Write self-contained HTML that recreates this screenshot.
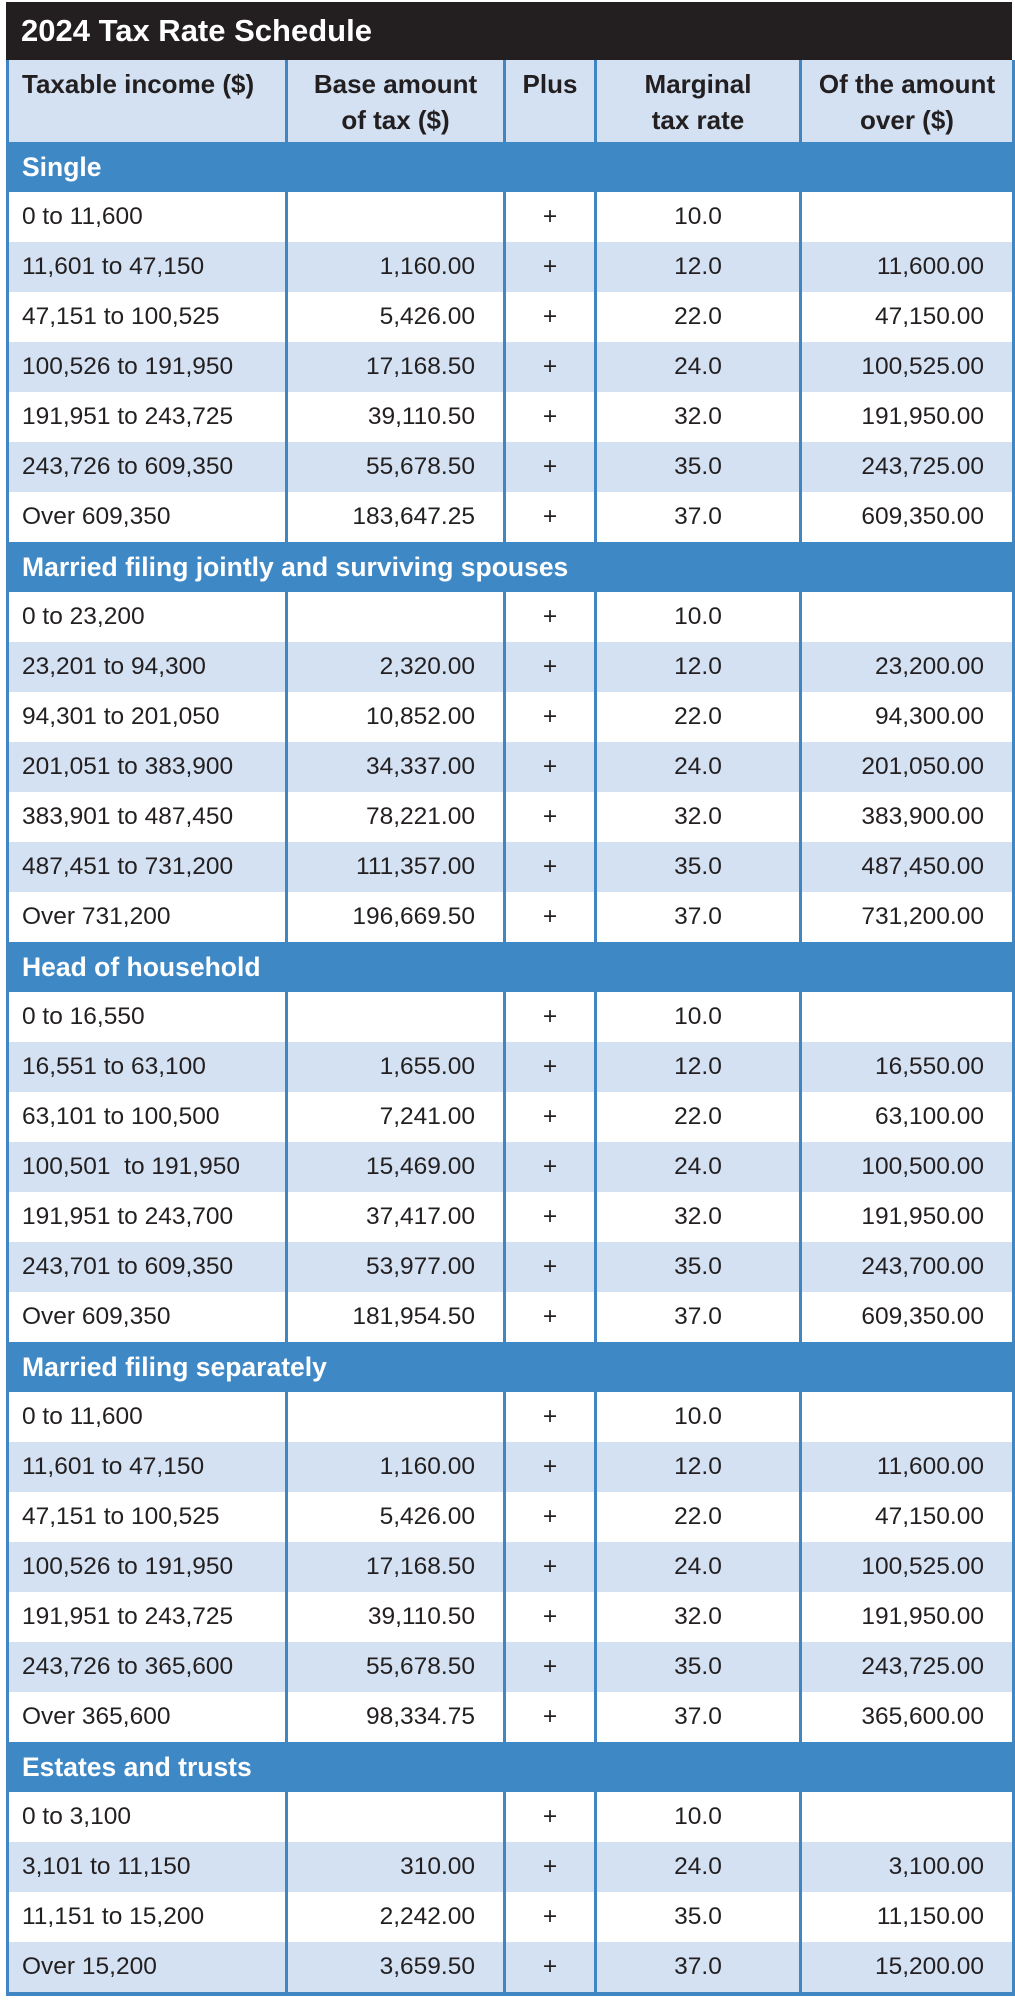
<!DOCTYPE html>
<html><head><meta charset="utf-8"><style>
body{margin:0;background:#fff;width:1015px;height:2004px;overflow:hidden;font-family:"Liberation Sans",sans-serif;}
.t{position:absolute;left:6px;top:2px;width:1006px;height:58px;background:#231f20;color:#fff;font-weight:bold;font-size:31px;line-height:58px;}
.t span{margin-left:15px}
table{position:absolute;left:6px;top:60px;border-collapse:collapse;table-layout:fixed;width:1006px;}
td{border-left:3px solid #3f86c3;border-right:3px solid #3f86c3;padding:0;height:50px;font-size:24.5px;color:#231f20;white-space:nowrap;overflow:hidden;}
tr.h td{background:#d3e1f2;font-weight:bold;text-align:center;line-height:36px;font-size:26px;vertical-align:top;padding-top:6px;height:76px;}
tr.h td:first-child{text-align:left;padding-left:13px;}
tr.s td{background:#3f88c6;color:#fff;font-weight:bold;padding-left:13px;font-size:26.5px;}
tr.b td{background:#d3e1f2}
td.a{padding-left:13px}
td.r{text-align:right;padding-right:28px}
td.c{text-align:center}
table{border-bottom:4px solid #3f86c3}
</style></head><body>
<div class="t"><span>2024 Tax Rate Schedule</span></div>
<table>
<colgroup><col style="width:279px"><col style="width:218px"><col style="width:91px"><col style="width:205px"><col style="width:213px"></colgroup>
<tr class="h"><td>Taxable income ($)</td><td>Base amount<br>of tax ($)</td><td>Plus</td><td>Marginal<br>tax rate</td><td>Of the amount<br>over ($)</td></tr>
<tr class="s"><td colspan="5">Single</td></tr>
<tr><td class="a">0 to 11,600</td><td class="r"></td><td class="c">+</td><td class="c">10.0</td><td class="r"></td></tr>
<tr class="b"><td class="a">11,601 to 47,150</td><td class="r">1,160.00</td><td class="c">+</td><td class="c">12.0</td><td class="r">11,600.00</td></tr>
<tr><td class="a">47,151 to 100,525</td><td class="r">5,426.00</td><td class="c">+</td><td class="c">22.0</td><td class="r">47,150.00</td></tr>
<tr class="b"><td class="a">100,526 to 191,950</td><td class="r">17,168.50</td><td class="c">+</td><td class="c">24.0</td><td class="r">100,525.00</td></tr>
<tr><td class="a">191,951 to 243,725</td><td class="r">39,110.50</td><td class="c">+</td><td class="c">32.0</td><td class="r">191,950.00</td></tr>
<tr class="b"><td class="a">243,726 to 609,350</td><td class="r">55,678.50</td><td class="c">+</td><td class="c">35.0</td><td class="r">243,725.00</td></tr>
<tr><td class="a">Over 609,350</td><td class="r">183,647.25</td><td class="c">+</td><td class="c">37.0</td><td class="r">609,350.00</td></tr>
<tr class="s"><td colspan="5">Married filing jointly and surviving spouses</td></tr>
<tr><td class="a">0 to 23,200</td><td class="r"></td><td class="c">+</td><td class="c">10.0</td><td class="r"></td></tr>
<tr class="b"><td class="a">23,201 to 94,300</td><td class="r">2,320.00</td><td class="c">+</td><td class="c">12.0</td><td class="r">23,200.00</td></tr>
<tr><td class="a">94,301 to 201,050</td><td class="r">10,852.00</td><td class="c">+</td><td class="c">22.0</td><td class="r">94,300.00</td></tr>
<tr class="b"><td class="a">201,051 to 383,900</td><td class="r">34,337.00</td><td class="c">+</td><td class="c">24.0</td><td class="r">201,050.00</td></tr>
<tr><td class="a">383,901 to 487,450</td><td class="r">78,221.00</td><td class="c">+</td><td class="c">32.0</td><td class="r">383,900.00</td></tr>
<tr class="b"><td class="a">487,451 to 731,200</td><td class="r">111,357.00</td><td class="c">+</td><td class="c">35.0</td><td class="r">487,450.00</td></tr>
<tr><td class="a">Over 731,200</td><td class="r">196,669.50</td><td class="c">+</td><td class="c">37.0</td><td class="r">731,200.00</td></tr>
<tr class="s"><td colspan="5">Head of household</td></tr>
<tr><td class="a">0 to 16,550</td><td class="r"></td><td class="c">+</td><td class="c">10.0</td><td class="r"></td></tr>
<tr class="b"><td class="a">16,551 to 63,100</td><td class="r">1,655.00</td><td class="c">+</td><td class="c">12.0</td><td class="r">16,550.00</td></tr>
<tr><td class="a">63,101 to 100,500</td><td class="r">7,241.00</td><td class="c">+</td><td class="c">22.0</td><td class="r">63,100.00</td></tr>
<tr class="b"><td class="a">100,501 &nbsp;to 191,950</td><td class="r">15,469.00</td><td class="c">+</td><td class="c">24.0</td><td class="r">100,500.00</td></tr>
<tr><td class="a">191,951 to 243,700</td><td class="r">37,417.00</td><td class="c">+</td><td class="c">32.0</td><td class="r">191,950.00</td></tr>
<tr class="b"><td class="a">243,701 to 609,350</td><td class="r">53,977.00</td><td class="c">+</td><td class="c">35.0</td><td class="r">243,700.00</td></tr>
<tr><td class="a">Over 609,350</td><td class="r">181,954.50</td><td class="c">+</td><td class="c">37.0</td><td class="r">609,350.00</td></tr>
<tr class="s"><td colspan="5">Married filing separately</td></tr>
<tr><td class="a">0 to 11,600</td><td class="r"></td><td class="c">+</td><td class="c">10.0</td><td class="r"></td></tr>
<tr class="b"><td class="a">11,601 to 47,150</td><td class="r">1,160.00</td><td class="c">+</td><td class="c">12.0</td><td class="r">11,600.00</td></tr>
<tr><td class="a">47,151 to 100,525</td><td class="r">5,426.00</td><td class="c">+</td><td class="c">22.0</td><td class="r">47,150.00</td></tr>
<tr class="b"><td class="a">100,526 to 191,950</td><td class="r">17,168.50</td><td class="c">+</td><td class="c">24.0</td><td class="r">100,525.00</td></tr>
<tr><td class="a">191,951 to 243,725</td><td class="r">39,110.50</td><td class="c">+</td><td class="c">32.0</td><td class="r">191,950.00</td></tr>
<tr class="b"><td class="a">243,726 to 365,600</td><td class="r">55,678.50</td><td class="c">+</td><td class="c">35.0</td><td class="r">243,725.00</td></tr>
<tr><td class="a">Over 365,600</td><td class="r">98,334.75</td><td class="c">+</td><td class="c">37.0</td><td class="r">365,600.00</td></tr>
<tr class="s"><td colspan="5">Estates and trusts</td></tr>
<tr><td class="a">0 to 3,100</td><td class="r"></td><td class="c">+</td><td class="c">10.0</td><td class="r"></td></tr>
<tr class="b"><td class="a">3,101 to 11,150</td><td class="r">310.00</td><td class="c">+</td><td class="c">24.0</td><td class="r">3,100.00</td></tr>
<tr><td class="a">11,151 to 15,200</td><td class="r">2,242.00</td><td class="c">+</td><td class="c">35.0</td><td class="r">11,150.00</td></tr>
<tr class="b"><td class="a">Over 15,200</td><td class="r">3,659.50</td><td class="c">+</td><td class="c">37.0</td><td class="r">15,200.00</td></tr>
</table>
</body></html>
